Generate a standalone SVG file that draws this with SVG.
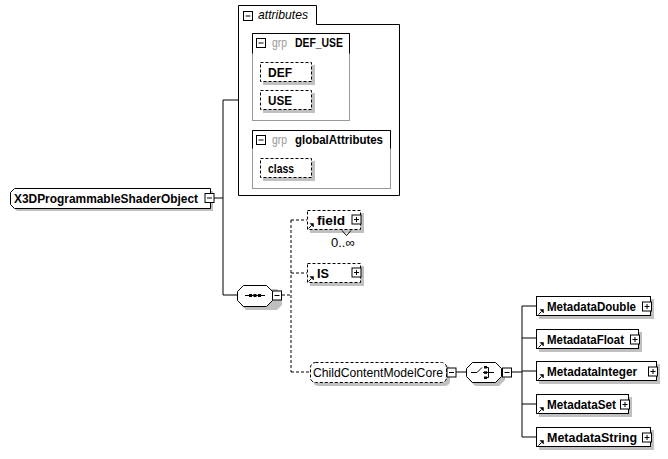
<svg xmlns="http://www.w3.org/2000/svg" xmlns:xlink="http://www.w3.org/1999/xlink" width="668" height="459" viewBox="0 0 668 459">
<style>
text{font-family:"Liberation Sans",Arial,sans-serif;font-size:13px;fill:#000}
.b{font-weight:bold}
.grp{fill:#999;font-weight:normal}
.sh{fill:#c0c0c0;stroke:none}
.box{fill:#fff;stroke:#000;stroke-width:1}
.dbox{fill:#fff;stroke:#000;stroke-width:1;stroke-dasharray:3,2}
.ln{fill:none;stroke:#000;stroke-width:1}
.dl{fill:none;stroke:#000;stroke-width:1;stroke-dasharray:3,2}
.gbox{fill:#fff;stroke:#999;stroke-width:1}
</style>
<defs>
<g id="plus"><rect x="0.5" y="0.5" width="9" height="9" fill="#fff" stroke="#000"/><path d="M2.5,5H7.5M5,2.5V7.5" stroke="#000" fill="none"/></g>
<g id="minus"><rect x="0.5" y="0.5" width="9" height="9" fill="#fff" stroke="#000"/><path d="M2.5,5H7.5" stroke="#000" fill="none"/></g>
<g id="ref"><path d="M0.5,5.5L3.5,2.5" stroke="#000" fill="none"/><path d="M2,0.5H5.5V4Z" fill="#000" stroke="#000" stroke-width="0.5"/></g>
</defs>

<g id="connectors">
<path class="ln" d="M214,198H223M223,100V295M223,100H238M223,295H238"/>
<path class="dl" d="M282,295H291M291,220V372M291,220H307M291,273H307M291,372H310"/>
<path class="ln" d="M456,372H466M511,372H522M522,306V437M522,306H536M522,338H536M522,371H536M522,404H536M522,437H536"/>
</g>

<g id="X3DProgrammableShaderObject">
<path class="sh" d="M17,191H213V211H17L13,207V195Z"/>
<path class="box" d="M14.5,188.5H210.5V208.5H14.5L10.5,204.5V192.5Z"/>
<text class="b" x="14" y="203" textLength="184" lengthAdjust="spacingAndGlyphs">X3DProgrammableShaderObject</text>
<use href="#minus" x="204.5" y="193"/>
</g>

<g id="attributes">
<path class="box" d="M238.5,5.5H316.5V24.5H399.5V195.5H238.5Z"/>
<use href="#minus" x="243" y="11"/>
<text x="258" y="19" font-style="italic" font-size="12" textLength="50" lengthAdjust="spacingAndGlyphs">attributes</text>
</g>

<g id="DEF_USE">
<rect class="gbox" x="252.5" y="33.5" width="97" height="87"/>
<path class="ln" d="M252.5,53.5V33.5H349.5V53.5"/>
<use href="#minus" x="256" y="38"/>
<text class="grp" x="272" y="47" textLength="15" lengthAdjust="spacingAndGlyphs">grp</text>
<text class="b" x="295" y="47" textLength="48" lengthAdjust="spacingAndGlyphs">DEF_USE</text>
</g>
<g id="DEF">
<rect class="sh" x="263" y="65" width="52" height="20"/>
<rect class="dbox" x="260.5" y="62.5" width="51" height="19"/>
<text class="b" x="268" y="77" textLength="24" lengthAdjust="spacingAndGlyphs">DEF</text>
</g>
<g id="USE">
<rect class="sh" x="263" y="93" width="52" height="20"/>
<rect class="dbox" x="260.5" y="90.5" width="51" height="19"/>
<text class="b" x="268" y="105" textLength="24" lengthAdjust="spacingAndGlyphs">USE</text>
</g>

<g id="globalAttributes">
<rect class="gbox" x="252.5" y="130.5" width="138" height="58"/>
<path class="ln" d="M252.5,148.5V130.5H390.5V148.5"/>
<use href="#minus" x="256" y="135"/>
<text class="grp" x="272" y="144" textLength="15" lengthAdjust="spacingAndGlyphs">grp</text>
<text class="b" x="295" y="144" textLength="88" lengthAdjust="spacingAndGlyphs">globalAttributes</text>
</g>
<g id="class">
<rect class="sh" x="263" y="161" width="52" height="20"/>
<rect class="dbox" x="260.5" y="158.5" width="51" height="19"/>
<text class="b" x="268" y="173" textLength="26" lengthAdjust="spacingAndGlyphs">class</text>
</g>

<g id="sequence">
<path class="sh" d="M246,289H277L282,294V305L277,310H246L241,305V294Z"/>
<path class="box" d="M243.5,285.5H266.5L272.5,291.5V300.5L266.5,306.5H243.5L237.5,300.5V291.5Z"/>
<path class="ln" d="M245,295.5H265"/>
<rect x="249" y="294" width="3" height="3" fill="#000"/>
<rect x="253.5" y="294" width="3" height="3" fill="#000"/>
<rect x="258" y="294" width="3" height="3" fill="#000"/>
<use href="#minus" x="272" y="290.5"/>
</g>

<g id="field">
<rect class="sh" x="310" y="213" width="54" height="20"/>
<rect class="dbox" x="307.5" y="210.5" width="53" height="19"/>
<path class="ln" d="M342,230.5L346.5,235.5L351,230.5"/>
<use href="#ref" x="308" y="223"/>
<text class="b" x="317" y="225" textLength="28" lengthAdjust="spacingAndGlyphs">field</text>
<use href="#plus" x="351.5" y="214.5"/>
<text x="331" y="247" font-size="12" fill="#222">0..∞</text>
</g>

<g id="IS">
<rect class="sh" x="310" y="266" width="54" height="20"/>
<rect class="dbox" x="307.5" y="263.5" width="53" height="19"/>
<use href="#ref" x="308" y="276"/>
<text class="b" x="317" y="278" textLength="12" lengthAdjust="spacingAndGlyphs">IS</text>
<use href="#plus" x="351.5" y="267.5"/>
</g>

<g id="ChildContentModelCore">
<rect class="sh" x="313" y="365" width="137" height="21" rx="5"/>
<rect class="dbox" x="310.5" y="362.5" width="136" height="20" rx="5"/>
<text x="313" y="377" textLength="130" lengthAdjust="spacingAndGlyphs">ChildContentModelCore</text>
<use href="#minus" x="446.5" y="367.5"/>
</g>

<g id="choice">
<path class="sh" d="M475,366H499L505,372V380L499,386H475L469,380V372Z"/>
<path class="box" d="M472.5,362.5H495.5L501.5,368.5V376.5L495.5,382.5H472.5L466.5,376.5V368.5Z"/>
<path class="ln" d="M471,372.5H477L482,367.5M483,372.5H494M488.5,367.5V377.5"/>
<rect x="484" y="366" width="3" height="2.5" fill="#000"/>
<rect x="484" y="371.3" width="3" height="2.5" fill="#000"/>
<rect x="484" y="376.5" width="3" height="2.5" fill="#000"/>
<path class="ln" d="M486,367.5H488.5M486,377.5H488.5"/>
<use href="#minus" x="502" y="367.5"/>
</g>

<g id="MetadataDouble">
<rect class="sh" x="539" y="299" width="115" height="20"/>
<rect class="box" x="536.5" y="296.5" width="114" height="19"/>
<use href="#ref" x="538" y="309"/>
<text class="b" x="547" y="311" textLength="89" lengthAdjust="spacingAndGlyphs">MetadataDouble</text>
<use href="#plus" x="642" y="301.5"/>
</g>
<g id="MetadataFloat">
<rect class="sh" x="539" y="332" width="103" height="20"/>
<rect class="box" x="536.5" y="329.5" width="102" height="19"/>
<use href="#ref" x="538" y="342"/>
<text class="b" x="547" y="344" textLength="77" lengthAdjust="spacingAndGlyphs">MetadataFloat</text>
<use href="#plus" x="630" y="334.5"/>
</g>
<g id="MetadataInteger">
<rect class="sh" x="539" y="364" width="121" height="20"/>
<rect class="box" x="536.5" y="361.5" width="120" height="19"/>
<use href="#ref" x="538" y="374"/>
<text class="b" x="547" y="376" textLength="90" lengthAdjust="spacingAndGlyphs">MetadataInteger</text>
<use href="#plus" x="648" y="366.5"/>
</g>
<g id="MetadataSet">
<rect class="sh" x="539" y="397" width="93" height="20"/>
<rect class="box" x="536.5" y="394.5" width="92" height="19"/>
<use href="#ref" x="538" y="407"/>
<text class="b" x="547" y="409" textLength="69" lengthAdjust="spacingAndGlyphs">MetadataSet</text>
<use href="#plus" x="620" y="399.5"/>
</g>
<g id="MetadataString">
<rect class="sh" x="539" y="430" width="115" height="20"/>
<rect class="box" x="536.5" y="427.5" width="114" height="19"/>
<use href="#ref" x="538" y="440"/>
<text class="b" x="547" y="442" textLength="90" lengthAdjust="spacingAndGlyphs">MetadataString</text>
<use href="#plus" x="642" y="432.5"/>
</g>
</svg>
